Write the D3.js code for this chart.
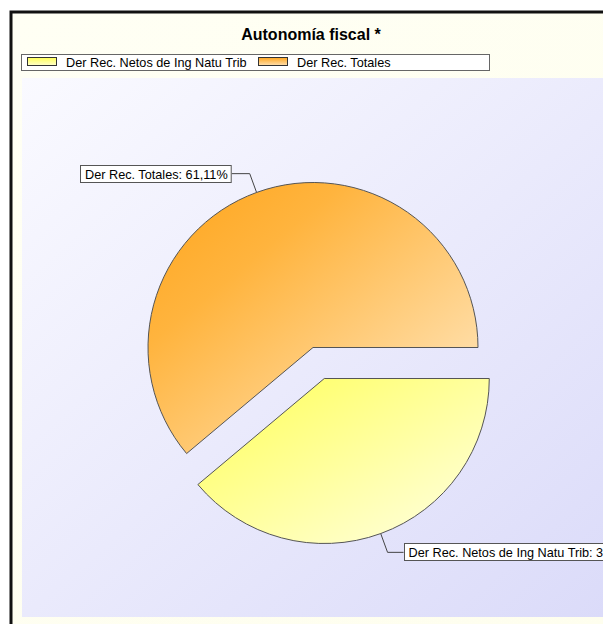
<!DOCTYPE html>
<meta charset="utf-8">
<script src="https://d3js.org/d3.v7.min.js"></script>
<style>
  body { margin: 0; background: #fff; }
  text { font-family: "Liberation Sans", Arial, sans-serif; }
</style>
<div id="chart"></div>
<script>
// data
var categories = ["Der Rec. Netos de Ing Natu Trib", "Der Rec. Totales"];
var values = [38.89, 61.11];
var valueLabels = ["38,89%", "61,11%"];
var title = "Autonomía fiscal *";

var W = 603, H = 624;
var cx = 313, cy = 347.5, radius = 165, explode = 33;
var fs = 12.7;

var svg = d3.select("#chart").append("svg")
    .attr("width", W).attr("height", H);

var defs = svg.append("defs");
function grad(id, stops, x1, y1, x2, y2) {
  var g = defs.append("linearGradient").attr("id", id)
      .attr("x1", x1).attr("y1", y1).attr("x2", x2).attr("y2", y2);
  stops.forEach(function(s) {
    g.append("stop").attr("offset", s[0]).attr("stop-color", s[1]);
  });
}
grad("bgGrad", [[0, "#fffff4"], [1, "#fefeee"]], 0, 0, 1, 1);
grad("plotGrad", [[0, "#fafaff"], [1, "#dadaf9"]], 0, 0, 1, 1);
grad("g0", [[0, "#ffff55"], [0.25, "#ffff7a"], [1, "#ffffe6"]], 0, 0, 1, 1);
grad("g1", [[0, "#ffa51c"], [0.3, "#ffb43e"], [1, "#ffeccc"]], 0, 0, 1, 1);
grad("sw0", [[0, "#ffff55"], [1, "#ffffcc"]], 0, 0, 0, 1);
grad("sw1", [[0, "#ffa51c"], [1, "#ffe0b0"]], 0, 0, 0, 1);

// frame + background
svg.append("rect").attr("x", 11).attr("y", 12).attr("width", 640).attr("height", 640)
    .attr("fill", "url(#bgGrad)").attr("stroke", "#111").attr("stroke-width", 3);

// plot area
svg.append("rect").attr("x", 22).attr("y", 78).attr("width", 620).attr("height", 539)
    .attr("fill", "url(#plotGrad)");

// title
svg.append("text").attr("x", 311).attr("y", 40).attr("text-anchor", "middle")
    .attr("font-size", 16).attr("font-weight", "bold").attr("fill", "#000")
    .text(title);

// legend
var lg = svg.append("g");
lg.append("rect").attr("x", 21.5).attr("y", 54.5).attr("width", 468).attr("height", 16)
    .attr("fill", "#fff").attr("stroke", "#666");
var legX = [27, 258];
categories.forEach(function(c, i) {
  lg.append("rect").attr("x", legX[i] + 0.5).attr("y", 57.5).attr("width", 29).attr("height", 8)
      .attr("fill", "url(#sw" + i + ")").attr("stroke", "#333");
  lg.append("text").attr("x", legX[i] + 39).attr("y", 67).attr("font-size", fs)
      .attr("fill", "#000").text(c);
});

// pie
var pie = d3.pie().sort(null).value(function(d) { return d; })
    .startAngle(Math.PI / 2).endAngle(Math.PI / 2 + 2 * Math.PI);
var arcs = pie(values);
var arc = d3.arc().innerRadius(0).outerRadius(radius);
var explodeBy = [explode, 0];

function offset(d, r) {
  var a = (d.startAngle + d.endAngle) / 2;
  return [Math.sin(a) * r, -Math.cos(a) * r];
}

var slices = svg.append("g").attr("transform", "translate(" + cx + "," + cy + ")");
slices.selectAll("path").data(arcs).enter().append("path")
    .attr("transform", function(d, i) {
      var o = offset(d, explodeBy[i]);
      return "translate(" + o[0] + "," + o[1] + ")";
    })
    .attr("d", arc)
    .attr("fill", function(d, i) { return "url(#g" + i + ")"; })
    .attr("stroke", "#555").attr("stroke-width", 1);

// labels with leader lines
var labels = svg.append("g");
arcs.forEach(function(d, i) {
  var o = offset(d, explodeBy[i]);
  var p0 = offset(d, radius), p1 = offset(d, radius + 20);
  var x0 = cx + o[0] + p0[0], y0 = cy + o[1] + p0[1];
  var x1 = cx + o[0] + p1[0], y1 = cy + o[1] + p1[1];
  var right = p0[0] > 0;
  var x2 = right ? x1 + 16 : x1 - 18;
  var txt = categories[i] + ": " + valueLabels[i];
  labels.append("polyline")
      .attr("points", [[x0, y0], [x1, y1], [x2, y1]].join(" "))
      .attr("fill", "none").attr("stroke", "#444").attr("stroke-width", 1);
  var t = labels.append("text").attr("font-size", fs).attr("fill", "#000").text(txt);
  var tw = t.node().getComputedTextLength();
  var bx = right ? x2 : x2 - tw - 9;
  labels.insert("rect", "text:last-child")
      .attr("x", Math.round(bx) + 0.5).attr("y", Math.round(y1 - 9) + 0.5)
      .attr("width", tw + 8).attr("height", 17)
      .attr("fill", "#fff").attr("stroke", "#555");
  t.attr("x", bx + 5).attr("y", y1 + 5);
});
</script>
